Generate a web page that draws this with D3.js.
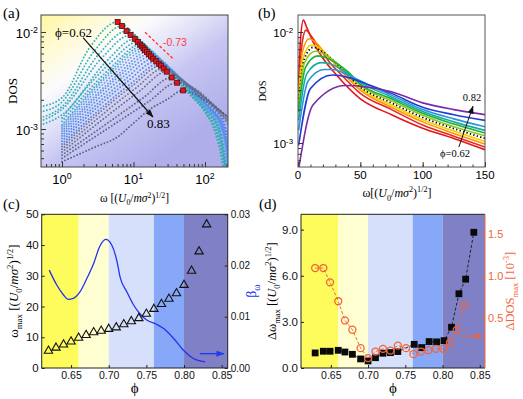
<!DOCTYPE html>
<html>
<head>
<meta charset="utf-8">
<script src="https://cdn.jsdelivr.net/npm/d3@7/dist/d3.min.js"></script>
<style>
  body { margin: 0; background: #fff; }
  text { font-family: "Liberation Sans", Arial, sans-serif; }
  .serif { font-family: "Liberation Serif", "Times New Roman", serif; }
</style>
</head>
<body>
<svg id="fig" width="523" height="399"></svg>
<script>
// ---------- (a) peaks (red squares) and DOS curves, one curve per phi
const phiA = [0.62,0.63,0.64,0.65,0.66,0.67,0.68,0.69,0.70,0.71,0.72,0.73,0.74,0.75,0.76,0.77,0.78,0.79,0.80,0.81,0.82,0.83];
const omegaPeakA = [6.0,6.9,8.0,9.1,10.4,11.5,12.4,13.1,13.8,14.5,15.4,16.5,17.6,18.9,20.8,22.7,24.3,26.4,29.2,34.2,40.8,49.5];
const dosPeakA = [0.0127,0.0115,0.0102,0.0093,0.0085,0.0079,0.0074,0.0071,0.0068,0.0065,0.0062,0.0059,0.0056,0.0053,0.0050,0.0047,0.0045,0.0042,0.0039,0.0034,0.0030,0.0025];
const dosCurvesA = [
  [[0.5,0.0017],[1,0.0021],[2.4,0.0068],[6.0,0.0127],[12,0.0081],[25,0.0047],[60,0.0023],[100,0.0015],[140,0.0009],[170,0.0005],[190,0.0003]],
  [[0.5,0.0015],[1,0.0019],[2.8,0.0063],[6.9,0.0115],[14,0.0074],[28,0.0044],[60,0.0023],[100,0.0015],[145,0.0009],[175,0.0005],[195,0.0003]],
  [[0.5,0.0013],[1,0.0017],[3.2,0.0058],[8.0,0.0102],[16,0.0068],[30,0.0042],[60,0.0024],[100,0.0015],[150,0.0009],[180,0.0005],[200,0.0003]],
  [[0.5,0.0012],[1,0.0016],[3.6,0.0054],[9.1,0.0093],[18,0.0063],[32,0.0041],[60,0.0024],[100,0.0016],[150,0.00095],[182,0.0005],[200,0.0003]],
  [[0.5,0.0011],[1,0.0014],[4.2,0.0050],[10.4,0.0085],[20,0.0058],[35,0.0039],[60,0.0025],[100,0.0016],[155,0.001],[185,0.0005],[205,0.0003]],
  [[1,0.0013],[4.6,0.0047],[11.5,0.0079],[22,0.0055],[37,0.0038],[60,0.0025],[100,0.0016],[155,0.001],[188,0.0005],[208,0.0003]],
  [[1,0.0012],[5,0.0044],[12.4,0.0074],[24,0.0052],[40,0.0036],[65,0.0024],[100,0.0017],[160,0.001],[190,0.0005],[210,0.0003]],
  [[1,0.0011],[5.2,0.0042],[13.1,0.0071],[25,0.0051],[40,0.0036],[65,0.0024],[100,0.0017],[160,0.001],[192,0.0005],[212,0.0003]],
  [[1,0.00105],[5.5,0.0041],[13.8,0.0068],[26,0.0049],[42,0.0035],[65,0.0025],[100,0.0017],[160,0.0011],[195,0.0006],[215,0.0003]],
  [[1,0.001],[5.8,0.0039],[14.5,0.0065],[27,0.0047],[42,0.0035],[70,0.0024],[110,0.0016],[165,0.0011],[198,0.0006],[218,0.0003]],
  [[1,0.00095],[6.2,0.0037],[15.4,0.0062],[29,0.0045],[45,0.0034],[70,0.0024],[110,0.0017],[165,0.0011],[200,0.0006],[220,0.0003]],
  [[1,0.0009],[6.6,0.0036],[16.5,0.0059],[31,0.0043],[48,0.0032],[70,0.0024],[110,0.0017],[170,0.0011],[205,0.0006],[222,0.0003]],
  [[1,0.00085],[7,0.0034],[17.6,0.0056],[33,0.0041],[50,0.0031],[75,0.0023],[115,0.0016],[170,0.0011],[210,0.0006]],
  [[1,0.0008],[7.5,0.0032],[18.9,0.0053],[35,0.0039],[50,0.0031],[75,0.0023],[115,0.0017],[175,0.0011],[212,0.0006]],
  [[1,0.00075],[8.3,0.0031],[20.8,0.0050],[38,0.0037],[55,0.0029],[80,0.0022],[120,0.0016],[180,0.0011],[215,0.0007]],
  [[1,0.0007],[9,0.0029],[22.7,0.0047],[40,0.0036],[60,0.0028],[85,0.0022],[120,0.0017],[180,0.0012],[215,0.0008]],
  [[1,0.00066],[9.7,0.0028],[24.3,0.0045],[42,0.0035],[60,0.0028],[90,0.0021],[130,0.0017],[215,0.0011]],
  [[1,0.00062],[10.5,0.0026],[26.4,0.0042],[45,0.0033],[65,0.0027],[90,0.0022],[130,0.0017],[215,0.0012]],
  [[1,0.00058],[11.7,0.0024],[29.2,0.0039],[50,0.0031],[70,0.0026],[100,0.0021],[150,0.0016],[215,0.0012]],
  [[1,0.00054],[13.7,0.0021],[34.2,0.0034],[60,0.0028],[85,0.0024],[120,0.0019],[215,0.0013]],
  [[1,0.0005],[16,0.0019],[40.8,0.0030],[70,0.0025],[100,0.0021],[140,0.0017],[215,0.0013]],
  [[1,0.00046],[3,0.00066],[6,0.00083],[10,0.00115],[17,0.0016],[29,0.002],[49.5,0.0025],[80,0.0022],[120,0.0018],[170,0.0015],[215,0.0013]]
];
const slopeLineA = [[14.5,0.00993],[36.1,0.00527]];
const phiArrowA = [[1.97,0.00875],[18.7,0.00133]];

// ---------- (b) DOS vs omega, phi = 0.62 ... 0.82
const phiB = [0.62,0.64,0.66,0.68,0.70,0.72,0.74,0.76,0.78,0.80,0.82];
const dosCurvesB = [
  [[0.5,0.0035],[2,0.0085],[4.3,0.0128],[7,0.011],[12,0.0082],[20,0.0058],[30,0.0042],[50,0.0025],[75,0.0018],[100,0.00136],[125,0.0011],[150,0.00087]],
  [[0.5,0.003],[3,0.0075],[6.4,0.0104],[10,0.0094],[15,0.0078],[25,0.0054],[35,0.0041],[50,0.0028],[75,0.002],[100,0.00145],[125,0.00115],[150,0.00092]],
  [[0.5,0.0027],[3.5,0.0066],[9,0.0087],[14,0.0081],[20,0.0068],[30,0.0051],[50,0.003],[75,0.0021],[100,0.00155],[125,0.00122],[150,0.00098]],
  [[0.5,0.0025],[4,0.0058],[10.4,0.0076],[15,0.0074],[22,0.0064],[32,0.005],[50,0.0031],[75,0.0022],[100,0.00162],[125,0.00128],[150,0.00103]],
  [[0.5,0.0023],[5,0.0057],[12.5,0.0073],[18,0.0068],[25,0.006],[35,0.0047],[50,0.0032],[75,0.0023],[100,0.0017],[125,0.00135],[150,0.0011]],
  [[0.5,0.0021],[5,0.0052],[13.9,0.0067],[20,0.0064],[28,0.0056],[38,0.0045],[50,0.0033],[75,0.0024],[100,0.00178],[125,0.0014],[150,0.00116]],
  [[0.5,0.0019],[6,0.0048],[15.8,0.0061],[22,0.0059],[30,0.0053],[40,0.0044],[50,0.0034],[75,0.0025],[100,0.00185],[125,0.00148],[150,0.00123]],
  [[0.5,0.0016],[7,0.0042],[18.5,0.0053],[25,0.0052],[35,0.0046],[50,0.0035],[75,0.0026],[100,0.00192],[125,0.00155],[150,0.0013]],
  [[0.5,0.0013],[8,0.0036],[21,0.0046],[28,0.0046],[40,0.0041],[55,0.0034],[75,0.0027],[100,0.002],[125,0.00165],[150,0.0014]],
  [[0.5,0.00095],[10,0.0031],[27.8,0.0041],[40,0.0039],[55,0.0034],[75,0.0028],[100,0.0021],[125,0.0018],[150,0.0016]],
  [[0.5,0.00058],[12,0.0022],[38,0.0033],[55,0.0032],[75,0.0029],[100,0.0023],[125,0.002],[150,0.0018]]
];
const colorsB = ['#e3161c','#e8281e','#ff9400','#f4cc00','#000000','#92c81a','#1fae3c','#14ad9c','#2796dc','#1e3ed2','#7a2aa6'];
const phiArrowB = [[129,0.00092],[140.4,0.00215]];

// ---------- (c) omega_max (triangles) and beta_omega (blue line)
const phiC = [0.62,0.63,0.64,0.65,0.66,0.67,0.68,0.69,0.70,0.71,0.72,0.73,0.74,0.75,0.76,0.77,0.78,0.79,0.80,0.81,0.82,0.83];
const omegaMaxC = [5.6,6.6,7.6,8.6,9.8,10.7,11.6,12.1,12.7,13.2,14.2,15.2,16.2,17.6,19.2,20.8,22.5,24.3,27.0,31.6,37.9,46.7];
const betaPhiC = [0.621,0.631,0.640,0.646,0.653,0.662,0.671,0.680,0.688,0.696,0.704,0.711,0.715,0.724,0.733,0.742,0.750,0.764,0.773,0.786,0.799,0.812,0.828];
const betaC = [0.0191,0.0162,0.01425,0.0134,0.0136,0.0149,0.0175,0.0204,0.0237,0.0251,0.024,0.0208,0.0178,0.0149,0.0123,0.0105,0.0094,0.0085,0.0077,0.0058,0.0035,0.0019,0.0012];
const bandEdges = [0.66, 0.70, 0.76, 0.80];
const bandColors = ['#fdfc5c','#fffed0','#d6e0fa','#87a8f8','#8080c6'];

// ---------- (d) delta omega_max (squares) and delta DOS_max (circles)
const phiSqD = [0.629,0.640,0.649,0.660,0.669,0.679,0.690,0.700,0.710,0.720,0.730,0.740,0.762,0.772,0.782,0.792,0.802,0.812,0.822,0.831,0.842];
const dOmegaMaxD = [0.98,1.09,1.09,1.15,1.04,0.89,0.59,0.46,0.67,0.96,1.00,1.07,1.54,1.33,1.72,1.70,1.78,2.65,4.83,5.78,8.83];
const phiCircD = [0.629,0.640,0.649,0.660,0.669,0.679,0.690,0.700,0.710,0.720,0.730,0.740,0.751,0.761,0.771,0.781,0.791,0.801,0.810,0.819,0.829];
const dDosMaxD = [1.10,1.10,0.93,0.705,0.476,0.366,0.146,0.028,0.106,0.138,0.118,0.177,0.146,0.075,0.106,0.122,0.138,0.138,0.213,0.362,0.65];

const svg = d3.select('#fig');
svg.append('rect').attr('width', 523).attr('height', 399).attr('fill', '#fff');
const defs = svg.append('defs');

function marker(id, color) {
  defs.append('marker').attr('id', id)
    .attr('viewBox', '0 0 8 6').attr('refX', 7.5).attr('refY', 3)
    .attr('markerWidth', 8).attr('markerHeight', 6)
    .attr('markerUnits', 'userSpaceOnUse').attr('orient', 'auto')
    .append('path').attr('d', 'M0,0L8,3L0,6Z').attr('fill', color);
}
marker('ahBlack', '#111');
marker('ahBlue', '#1f3cf0');
marker('ahOrange', '#f0653a');

// text with sub/superscripts: parts = [text, 'sub'|'sup'|0, italic]
function rich(text, parts, fs) {
  let cur = 0;
  parts.forEach(p => {
    const off = p[1] === 'sub' ? fs * 0.3 : p[1] === 'sup' ? -fs * 0.38 : 0;
    const ts = text.append('tspan').attr('dy', off - cur).text(p[0]);
    if (p[1]) ts.attr('font-size', fs * 0.68);
    if (p[2]) ts.attr('font-style', 'italic');
    cur = off;
  });
  return text;
}
const unitParts = [['[(',0],['U',0,1],['0','sub'],['/',0],['mσ',0,1],['2','sup'],[')',0],['1/2','sup'],[']',0]];

function ticks(g, axisFn, scale, values, size, color) {
  g.call(axisFn(scale).tickValues(values).tickSize(size).tickFormat(''));
  g.select('.domain').remove();
  g.selectAll('line').attr('stroke', color || '#333');
}
function pow10Label(g, x, y, exp, anchor, fs) {
  rich(g.append('text').attr('x', x).attr('y', y).attr('text-anchor', anchor).attr('font-size', fs),
    [['10',0],[exp,'sup']], fs);
}
function panelLabel(t, x, y) {
  svg.append('text').attr('class', 'serif').attr('x', x).attr('y', y).attr('font-size', 15).text(t);
}

// =============== (a)
{
  const xa = d3.scaleLog().domain([0.508, 210]).range([41, 228]);
  const ya = d3.scaleLog().domain([0.01496, 0.000406]).range([15, 167]);
  const [x0, x1] = xa.range(), [y0, y1] = ya.range();

  const grad = defs.append('linearGradient').attr('id', 'bgA')
    .attr('gradientUnits', 'userSpaceOnUse')
    .attr('x1', x0).attr('y1', y0).attr('x2', x0 + 109).attr('y2', y1);
  [[0,'#fff6a0'],[0.18,'#fffbd4'],[0.36,'#fbfbfd'],[0.52,'#e2e2f8'],[0.68,'#c6c5f2'],[1,'#b0aeea']]
    .forEach(s => grad.append('stop').attr('offset', s[0]).attr('stop-color', s[1]));
  defs.append('clipPath').attr('id', 'clipA').append('rect')
    .attr('x', x0).attr('y', y0).attr('width', x1 - x0).attr('height', y1 - y0);

  const g = svg.append('g');
  g.append('rect').attr('x', x0).attr('y', y0).attr('width', x1 - x0).attr('height', y1 - y0)
    .attr('fill', 'url(#bgA)');

  const colorA = i => i < 8 ? d3.interpolateRgb('#2eb4ac', '#3aa8c4')(i / 7)
    : i < 16 ? d3.interpolateRgb('#64a2ee', '#4a84ea')((i - 8) / 7)
    : d3.interpolateRgb('#6b7996', '#55627f')((i - 16) / 5);

  const lineA = d3.line().x(d => xa(d[0])).y(d => ya(d[1])).curve(d3.curveMonotoneX);
  const cg = g.append('g').attr('clip-path', 'url(#clipA)');
  cg.selectAll('path.dos').data(dosCurvesA).join('path')
    .attr('class', 'dos')
    .attr('d', lineA)
    .attr('fill', 'none')
    .attr('stroke', (d, i) => colorA(i))
    .attr('stroke-width', 1.9)
    .attr('stroke-linecap', 'round')
    .attr('stroke-dasharray', '0 3.3');

  // -0.73 slope guide
  cg.append('path').attr('d', d3.line().x(d => xa(d[0])).y(d => ya(d[1]))(slopeLineA))
    .attr('stroke', '#ff3030').attr('stroke-width', 1.3).attr('stroke-dasharray', '3 2').attr('fill', 'none');
  g.append('text').attr('x', xa(slopeLineA[0][0]) + 18).attr('y', ya(slopeLineA[0][1]) + 14)
    .attr('font-size', 10.5).attr('fill', '#ff3a3a').text('-0.73');

  // peaks
  cg.selectAll('rect.pk').data(omegaPeakA).join('rect')
    .attr('class', 'pk')
    .attr('x', d => xa(d) - 2.5)
    .attr('y', (d, i) => ya(dosPeakA[i]) - 2.5)
    .attr('width', 5).attr('height', 5)
    .attr('fill', '#e3121c').attr('stroke', '#501010').attr('stroke-width', 0.8);

  // phi arrow
  g.append('line')
    .attr('x1', xa(phiArrowA[0][0])).attr('y1', ya(phiArrowA[0][1]))
    .attr('x2', xa(phiArrowA[1][0])).attr('y2', ya(phiArrowA[1][1]))
    .attr('stroke', '#111').attr('stroke-width', 1.2).attr('marker-end', 'url(#ahBlack)');
  g.append('text').attr('class', 'serif').attr('x', 55).attr('y', 37).attr('font-size', 13)
    .text('ϕ=' + phiA[0].toFixed(2));
  g.append('text').attr('class', 'serif').attr('x', 147).attr('y', 128).attr('font-size', 13)
    .attr('fill', '#000').text(phiA[phiA.length - 1].toFixed(2));

  // axes
  const xMin = [0.6,0.7,0.8,0.9,2,3,4,5,6,7,8,9,20,30,40,50,60,70,80,90,200];
  const yMin = [0.0005,0.0006,0.0007,0.0008,0.0009,0.002,0.003,0.004,0.005,0.006,0.007,0.008,0.009];
  ticks(g.append('g').attr('transform', `translate(0,${y1})`), d3.axisBottom, xa, xMin, -3);
  ticks(g.append('g').attr('transform', `translate(0,${y1})`), d3.axisBottom, xa, [1,10,100], -5);
  ticks(g.append('g').attr('transform', `translate(${x0},0)`), d3.axisLeft, ya, yMin, -3);
  ticks(g.append('g').attr('transform', `translate(${x0},0)`), d3.axisLeft, ya, [0.01,0.001], -5);
  [[1,'0'],[10,'1'],[100,'2']].forEach(t => pow10Label(g, xa(t[0]), 184, t[1], 'middle', 13));
  [[0.01,'-2'],[0.001,'-3']].forEach(t => pow10Label(g, x0 - 3, ya(t[0]) + 6, t[1], 'end', 13));
  g.append('rect').attr('x', x0).attr('y', y0).attr('width', x1 - x0).attr('height', y1 - y0)
    .attr('fill', 'none').attr('stroke', '#444').attr('stroke-width', 1);

  g.append('text').attr('class', 'serif').attr('font-size', 13)
    .attr('transform', `translate(17,${(y0 + y1) / 2}) rotate(-90)`).attr('text-anchor', 'middle').text('DOS');
  rich(g.append('text').attr('class', 'serif').attr('x', (x0 + x1) / 2).attr('y', 202)
    .attr('text-anchor', 'middle').attr('font-size', 11.5), [['ω ',0]].concat(unitParts), 11.5);
  panelLabel('(a)', 3, 18);
}

// =============== (b)
{
  const xb = d3.scaleLinear().domain([0, 150]).range([298, 485]);
  const yb = d3.scaleLog().domain([0.01423, 0.000608]).range([15, 167]);
  const [x0, x1] = xb.range(), [y0, y1] = yb.range();
  defs.append('clipPath').attr('id', 'clipB').append('rect')
    .attr('x', x0).attr('y', y0).attr('width', x1 - x0).attr('height', y1 - y0);
  const g = svg.append('g');
  const lineB = d3.line().x(d => xb(d[0])).y(d => yb(d[1])).curve(d3.curveMonotoneX);
  const cg = g.append('g').attr('clip-path', 'url(#clipB)');
  cg.selectAll('path').data(dosCurvesB).join('path')
    .attr('d', lineB)
    .attr('fill', 'none')
    .attr('stroke', (d, i) => colorsB[i])
    .attr('stroke-width', (d, i) => i === 4 ? 1.8 : 1.6)
    .attr('stroke-dasharray', (d, i) => i === 4 ? '1.3 2.3' : null);

  g.append('line')
    .attr('x1', xb(phiArrowB[0][0])).attr('y1', yb(phiArrowB[0][1]))
    .attr('x2', xb(phiArrowB[1][0])).attr('y2', yb(phiArrowB[1][1]))
    .attr('stroke', '#111').attr('stroke-width', 1).attr('marker-end', 'url(#ahBlack)');
  g.append('text').attr('class', 'serif').attr('x', 472).attr('y', 101).attr('text-anchor', 'middle')
    .attr('font-size', 10.5).text(phiB[phiB.length - 1].toFixed(2));
  g.append('text').attr('class', 'serif').attr('x', 455).attr('y', 157).attr('text-anchor', 'middle')
    .attr('font-size', 10.5).text('ϕ=' + phiB[0].toFixed(2));

  ticks(g.append('g').attr('transform', `translate(0,${y1})`), d3.axisBottom, xb, d3.range(10, 150, 10), -2.5);
  ticks(g.append('g').attr('transform', `translate(0,${y1})`), d3.axisBottom, xb, [0,50,100,150], -5);
  ticks(g.append('g').attr('transform', `translate(${x0},0)`), d3.axisLeft, yb,
    [0.0007,0.0008,0.0009,0.002,0.003,0.004,0.005,0.006,0.007,0.008,0.009], -3);
  ticks(g.append('g').attr('transform', `translate(${x0},0)`), d3.axisLeft, yb, [0.01,0.001], -5);
  [0,50,100,150].forEach(v => g.append('text').attr('x', xb(v)).attr('y', 179)
    .attr('text-anchor', 'middle').attr('font-size', 11.5).text(v));
  [[0.01,'-2'],[0.001,'-3']].forEach(t => pow10Label(g, x0 - 5, yb(t[0]) + 5, t[1], 'end', 11.5));
  g.append('rect').attr('x', x0).attr('y', y0).attr('width', x1 - x0).attr('height', y1 - y0)
    .attr('fill', 'none').attr('stroke', '#555').attr('stroke-width', 1);

  g.append('text').attr('class', 'serif').attr('font-size', 10.5)
    .attr('transform', `translate(266,${(y0 + y1) / 2}) rotate(-90)`).attr('text-anchor', 'middle').text('DOS');
  rich(g.append('text').attr('class', 'serif').attr('x', 397).attr('y', 197)
    .attr('text-anchor', 'middle').attr('font-size', 12), [['ω',0]].concat(unitParts), 12);
  panelLabel('(b)', 258, 18);
}

function bands(g, x, y0, y1) {
  const edges = [x.domain()[0]].concat(bandEdges, [x.domain()[1]]);
  g.selectAll('rect.band').data(bandColors).join('rect').attr('class', 'band')
    .attr('x', (d, i) => x(edges[i]))
    .attr('width', (d, i) => x(edges[i + 1]) - x(edges[i]))
    .attr('y', y1).attr('height', y0 - y1)
    .attr('fill', d => d);
}
function styleAxis(g, fs, color) {
  g.select('.domain').remove();
  g.attr('font-family', '"Liberation Sans", Arial, sans-serif').attr('font-size', fs);
  g.selectAll('line').attr('stroke', color || '#222');
  g.selectAll('text').attr('fill', color || '#111');
}

// =============== (c)
{
  const xc = d3.scaleLinear().domain([0.611, 0.858]).range([41.7, 227.7]);
  const yc = d3.scaleLinear().domain([0, 50]).range([368, 214.3]);
  const yr = d3.scaleLinear().domain([0, 0.03]).range([368, 214.3]);
  const [x0, x1] = xc.range(), [y0, y1] = yc.range();
  const g = svg.append('g');
  bands(g, xc, y0, y1);

  g.append('path').datum(betaPhiC.map((p, i) => [p, betaC[i]]))
    .attr('d', d3.line().x(d => xc(d[0])).y(d => yr(d[1])).curve(d3.curveMonotoneX))
    .attr('fill', 'none').attr('stroke', '#2233f0').attr('stroke-width', 1.3);

  g.selectAll('path.tri').data(omegaMaxC).join('path').attr('class', 'tri')
    .attr('transform', (d, i) => `translate(${xc(phiC[i])},${yc(d)})`)
    .attr('d', d3.symbol(d3.symbolTriangle, 30))
    .attr('fill', 'none').attr('stroke', '#111').attr('stroke-width', 1.1);

  g.append('line').attr('x1', xc(0.821)).attr('x2', xc(0.853))
    .attr('y1', yr(0.0028)).attr('y2', yr(0.0028))
    .attr('stroke', '#1f3cf0').attr('stroke-width', 1.4).attr('marker-end', 'url(#ahBlue)');

  const ax = g.append('g').attr('transform', `translate(0,${y0})`)
    .call(d3.axisBottom(xc).tickValues([0.65,0.70,0.75,0.80,0.85]).tickFormat(d3.format('.2f')).tickSize(-3).tickPadding(4));
  styleAxis(ax, 10.5);
  const ay = g.append('g').attr('transform', `translate(${x0},0)`)
    .call(d3.axisLeft(yc).tickValues([0,10,20,30,40,50]).tickSize(-3).tickPadding(3));
  styleAxis(ay, 11.5);
  const ar = g.append('g').attr('transform', `translate(${x1},0)`)
    .call(d3.axisRight(yr).tickValues([0,0.01,0.02,0.03]).tickFormat(d3.format('.2f')).tickSize(-3).tickPadding(3));
  styleAxis(ar, 10);
  g.append('rect').attr('x', x0).attr('y', y1).attr('width', x1 - x0).attr('height', y0 - y1)
    .attr('fill', 'none').attr('stroke', '#222').attr('stroke-width', 1);

  rich(g.append('text').attr('class', 'serif').attr('font-size', 13).attr('text-anchor', 'middle')
    .attr('transform', `translate(18,${(y0 + y1) / 2}) rotate(-90)`),
    [['ω',0],['max','sub'],[' ',0]].concat(unitParts), 13);
  rich(g.append('text').attr('class', 'serif').attr('font-size', 14).attr('fill', '#2233f0')
    .attr('text-anchor', 'middle').attr('transform', `translate(256,${(y0 + y1) / 2}) rotate(-90)`),
    [['β',0],['ω','sub']], 14);
  g.append('text').attr('class', 'serif').attr('x', (x0 + x1) / 2).attr('y', 393)
    .attr('text-anchor', 'middle').attr('font-size', 15).text('ϕ');
  panelLabel('(c)', 3, 209);
}

// =============== (d)
{
  const xd = d3.scaleLinear().domain([0.61, 0.857]).range([301, 485]);
  const yd = d3.scaleLinear().domain([0, 10]).range([368, 214.3]);
  const yr = d3.scaleLinear().domain([-0.09, 1.74]).range([368, 214.3]);
  const [x0, x1] = xd.range(), [y0, y1] = yd.range();
  const orange = '#f0653a';
  const g = svg.append('g');
  bands(g, xd, y0, y1);

  g.append('path').datum(phiSqD.map((p, i) => [p, dOmegaMaxD[i]]))
    .attr('d', d3.line().x(d => xd(d[0])).y(d => yd(d[1])))
    .attr('fill', 'none').attr('stroke', '#222').attr('stroke-width', 1).attr('stroke-dasharray', '3 2');
  g.append('path').datum(phiCircD.map((p, i) => [p, dDosMaxD[i]]))
    .attr('d', d3.line().x(d => xd(d[0])).y(d => yr(d[1])))
    .attr('fill', 'none').attr('stroke', orange).attr('stroke-width', 1).attr('stroke-dasharray', '3 2');

  g.selectAll('rect.sq').data(dOmegaMaxD).join('rect').attr('class', 'sq')
    .attr('x', (d, i) => xd(phiSqD[i]) - 3.4).attr('y', d => yd(d) - 3.4)
    .attr('width', 6.8).attr('height', 6.8).attr('fill', '#0a0a0a');
  g.selectAll('circle.ci').data(dDosMaxD).join('circle').attr('class', 'ci')
    .attr('cx', (d, i) => xd(phiCircD[i])).attr('cy', d => yr(d)).attr('r', 3.5)
    .attr('fill', 'none').attr('stroke', orange).attr('stroke-width', 1.3);

  g.append('line').attr('x1', xd(0.825)).attr('x2', xd(0.853))
    .attr('y1', yr(0.29)).attr('y2', yr(0.29))
    .attr('stroke', orange).attr('stroke-width', 1).attr('marker-end', 'url(#ahOrange)');

  const ax = g.append('g').attr('transform', `translate(0,${y0})`)
    .call(d3.axisBottom(xd).tickValues([0.65,0.70,0.75,0.80,0.85]).tickFormat(d3.format('.2f')).tickSize(-3).tickPadding(4));
  styleAxis(ax, 10.5);
  const ay = g.append('g').attr('transform', `translate(${x0},0)`)
    .call(d3.axisLeft(yd).tickValues([0,3,6,9]).tickFormat(d3.format('.1f')).tickSize(-3).tickPadding(3));
  styleAxis(ay, 11.5);
  const ar = g.append('g').attr('transform', `translate(${x1},0)`)
    .call(d3.axisRight(yr).tickValues([0.5,1.0,1.5]).tickFormat(d3.format('.1f')).tickSize(-3).tickPadding(3));
  styleAxis(ar, 11, orange);
  g.append('path').attr('d', `M${x1},${y1}H${x0}V${y0}H${x1}`)
    .attr('fill', 'none').attr('stroke', '#222').attr('stroke-width', 1);
  g.append('line').attr('x1', x1).attr('x2', x1).attr('y1', y1).attr('y2', y0)
    .attr('stroke', orange).attr('stroke-width', 1);

  rich(g.append('text').attr('class', 'serif').attr('font-size', 12.5).attr('text-anchor', 'middle')
    .attr('transform', `translate(276,${(y0 + y1) / 2}) rotate(-90)`),
    [['Δω',0],['max','sub'],[' ',0]].concat(unitParts), 12.5);
  rich(g.append('text').attr('class', 'serif').attr('font-size', 12.5).attr('fill', orange)
    .attr('text-anchor', 'middle').attr('transform', `translate(514,${(y0 + y1) / 2}) rotate(-90)`),
    [['ΔDOS',0],['max','sub'],[' [10',0],['-3','sup'],[']',0]], 12.5);
  g.append('text').attr('class', 'serif').attr('x', (x0 + x1) / 2).attr('y', 393)
    .attr('text-anchor', 'middle').attr('font-size', 15).text('ϕ');
  panelLabel('(d)', 259, 209);
}
</script>
</body>
</html>
